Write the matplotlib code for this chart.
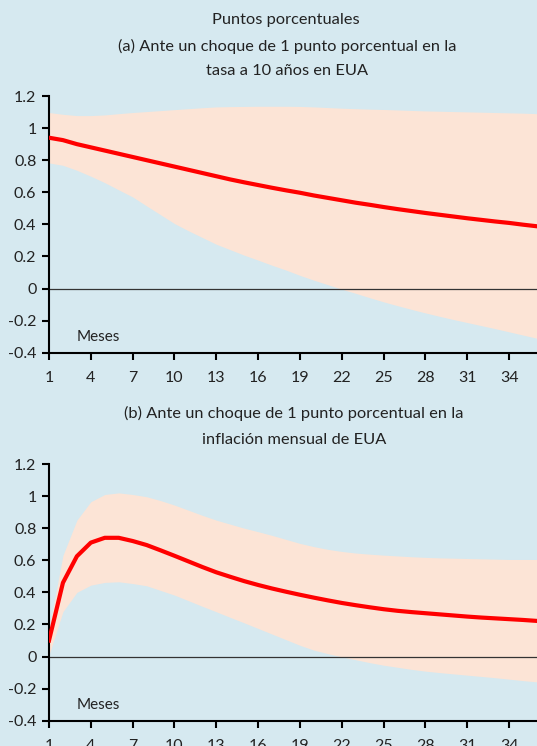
import numpy as np
import matplotlib
matplotlib.use('Agg')
import matplotlib.pyplot as plt

plt.rcParams['font.family'] = ['Lato', 'DejaVu Sans']

meses = list(range(1, 37))

# (a) choque en la tasa a 10 años
tasa_resp = [0.94, 0.925, 0.90, 0.88, 0.86, 0.84, 0.82, 0.80, 0.78, 0.76, 0.74, 0.72,
             0.70, 0.68, 0.662, 0.645, 0.628, 0.612, 0.597, 0.58, 0.565, 0.55, 0.535, 0.522,
             0.508, 0.495, 0.483, 0.471, 0.46, 0.449, 0.438, 0.428, 0.418, 0.409, 0.398, 0.388]
tasa_sup = [1.097, 1.086, 1.078, 1.078, 1.082, 1.09, 1.097, 1.103, 1.109, 1.115, 1.121, 1.127,
            1.132, 1.134, 1.135, 1.136, 1.136, 1.136, 1.135, 1.132, 1.128, 1.124, 1.121, 1.118,
            1.116, 1.113, 1.11, 1.107, 1.105, 1.103, 1.101, 1.099, 1.097, 1.095, 1.093, 1.09]
tasa_inf = [0.783, 0.768, 0.737, 0.70, 0.66, 0.615, 0.571, 0.515, 0.46, 0.405, 0.36, 0.318,
            0.276, 0.242, 0.208, 0.177, 0.145, 0.115, 0.082, 0.052, 0.024, -0.004, -0.03, -0.057,
            -0.083, -0.107, -0.13, -0.152, -0.173, -0.193, -0.212, -0.231, -0.25, -0.27, -0.29, -0.31]

# (b) choque en la inflación mensual
infl_resp = [0.10, 0.46, 0.625, 0.71, 0.74, 0.74, 0.72, 0.695, 0.662, 0.628, 0.593, 0.558,
             0.525, 0.497, 0.47, 0.446, 0.424, 0.404, 0.385, 0.367, 0.35, 0.334, 0.32, 0.307,
             0.295, 0.285, 0.277, 0.27, 0.263, 0.256, 0.249, 0.243, 0.238, 0.233, 0.228, 0.222]
infl_sup = [0.17, 0.63, 0.85, 0.965, 1.01, 1.02, 1.01, 0.996, 0.972, 0.944, 0.912, 0.88,
            0.85, 0.825, 0.8, 0.778, 0.755, 0.73, 0.705, 0.685, 0.668, 0.655, 0.645, 0.638,
            0.632, 0.627, 0.622, 0.618, 0.615, 0.613, 0.611, 0.609, 0.607, 0.605, 0.605, 0.605]
infl_inf = [0.01, 0.28, 0.40, 0.445, 0.462, 0.466, 0.455, 0.441, 0.412, 0.383, 0.348, 0.313,
            0.279, 0.244, 0.21, 0.175, 0.14, 0.105, 0.07, 0.04, 0.018, -0.002, -0.02, -0.038,
            -0.054, -0.067, -0.08, -0.091, -0.1, -0.108, -0.116, -0.124, -0.132, -0.141, -0.15, -0.158]

y_ticks = [-0.4, -0.2, 0, 0.2, 0.4, 0.6, 0.8, 1, 1.2]
y_labels = ['-0.4', '-0.2', '0', '0.2', '0.4', '0.6', '0.8', '1', '1.2']
x_ticks = list(range(1, 37, 3))

fondo = '#d6e9f0'
banda = '#fce4d6'
texto = '#222222'

fig = plt.figure(figsize=(5.37, 7.46), dpi=100, facecolor=fondo)
ax1 = fig.add_axes([49 / 537, 0.5272, 1 - 49 / 537, 0.3441])
ax2 = fig.add_axes([49 / 537, 0.0339, 1 - 49 / 537, 0.3441])


def panel(ax, resp, sup, inf):
    ax.set_facecolor(fondo)
    ax.fill_between(meses, inf, sup, color=banda, lw=0, zorder=1)
    ax.axhline(0, color='#333333', lw=0.9, zorder=2)
    ax.plot(meses, resp, color='#ff0000', lw=3, zorder=3, solid_joinstyle='round')
    ax.set_xlim(1, 36)
    ax.set_ylim(-0.4, 1.2)
    ax.set_yticks(y_ticks)
    ax.set_yticklabels(y_labels)
    ax.set_xticks(x_ticks)
    for s in ['top', 'right']:
        ax.spines[s].set_visible(False)
    for s in ['left', 'bottom']:
        ax.spines[s].set_linewidth(1.5)
        ax.spines[s].set_color('black')
    ax.tick_params(axis='both', direction='out', length=5, width=1.5,
                   labelsize=11.5, colors='black', labelcolor=texto, pad=4)
    ax.tick_params(axis='x', pad=8)
    ax.text(3, -0.3, 'Meses', fontsize=11, color=texto, va='center', ha='left')


panel(ax1, tasa_resp, tasa_sup, tasa_inf)
panel(ax2, infl_resp, infl_sup, infl_inf)

fs = 11.8
fig.text(286 / 537, 1 - 20 / 746, 'Puntos porcentuales', ha='center', va='center',
         fontsize=fs, color=texto)
fig.text(287 / 537, 1 - 46 / 746, '(a) Ante un choque de 1 punto porcentual en la',
         ha='center', va='center', fontsize=fs, color=texto)
fig.text(287 / 537, 1 - 71 / 746, 'tasa a 10 años en EUA', ha='center', va='center',
         fontsize=fs, color=texto)
fig.text(294 / 537, 1 - 413 / 746, '(b) Ante un choque de 1 punto porcentual en la',
         ha='center', va='center', fontsize=fs, color=texto)
fig.text(294 / 537, 1 - 440 / 746, 'inflación mensual de EUA', ha='center', va='center',
         fontsize=fs, color=texto)

fig.savefig('out.png', dpi=100, facecolor=fondo)
